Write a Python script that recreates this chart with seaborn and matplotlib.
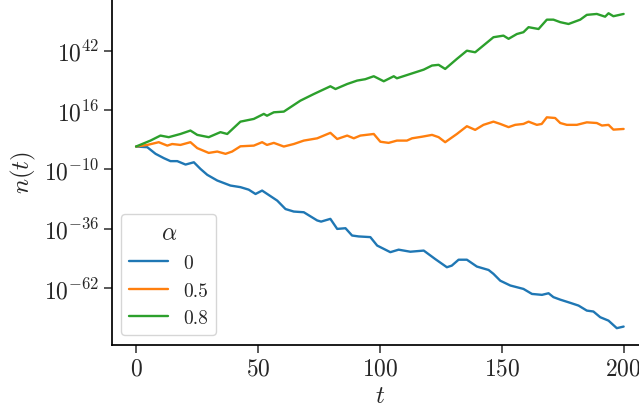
import numpy as np
import pandas as pd
import matplotlib
matplotlib.use("Agg")
import matplotlib.pyplot as plt
from matplotlib.ticker import FixedLocator, NullLocator
import seaborn as sns

# values: time t and log10 n(t)
t_a0 = [0, 4.6, 8, 11.4, 14.1, 16.9, 20.3, 23.7, 26.4, 29.2, 33.3, 38.7, 42.8,
        46.2, 49, 51.7, 57.9, 61.3, 64.7, 68.8, 74.3, 75.9, 79.7, 82.5, 85.9,
        88.6, 91.3, 96.1, 98.9, 104.3, 107.7, 112.5, 118, 122.7, 127.5, 129.5,
        132.3, 135.7, 139.8, 144.6, 146.6, 149.4, 153.5, 158.9, 162.4, 166.5,
        169.2, 171.2, 174, 178.1, 181.5, 184.9, 187.6, 190.4, 193.8, 197.2, 200]
log_a0 = [0, -0.3, -3.2, -5.1, -6.4, -6.4, -7.9, -6.9, -9.8, -12.4, -14.9, -17.1,
          -17.8, -18.9, -20.8, -19.3, -23.7, -27.4, -28.5, -28.8, -32.4, -32.9,
          -31.7, -36.1, -35.8, -39.0, -39.4, -39.7, -43.4, -46.3, -45.2, -46.1,
          -45.6, -49.3, -52.9, -52.2, -49.6, -49.6, -52.6, -54.1, -55.8, -58.8,
          -60.9, -62.4, -64.6, -65.0, -64.3, -66.0, -67.1, -68.5, -69.7, -71.9,
          -72.3, -74.8, -76.3, -79.6, -78.9]

t_a05 = [0, 4.6, 9.3, 12.8, 14.8, 18.2, 22.3, 25.1, 29.8, 33.3, 36.7, 39.4, 42.8,
         48.3, 51.7, 53.7, 56.5, 60.6, 64.7, 68.8, 74.3, 79.7, 82.5, 86.6, 89.3,
         92, 97.5, 100.2, 103.6, 107, 111.1, 113.2, 117.3, 121.4, 124.1, 126.8,
         131.6, 135.7, 139.1, 142.5, 146.6, 149.4, 152.8, 155.5, 158.9, 161,
         164.4, 166.4, 168.5, 171.9, 174, 176.7, 180.8, 184.9, 189, 191.1, 193.8,
         195.8, 200]
log_a05 = [0, 0.7, 1.9, 0.4, 1.1, 0.7, 1.9, -0.7, -2.8, -2.2, -3.2, -2.2, 0.1,
           0.4, 1.9, 0.7, 1.6, 0.0, 1.1, 2.6, 3.6, 6.0, 3.3, 4.8, 3.6, 4.8, 5.5,
           2.1, 1.6, 2.6, 2.6, 3.6, 4.3, 5.1, 4.1, 1.9, 5.5, 8.9, 7.3, 9.5, 10.9,
           9.9, 8.5, 9.5, 9.9, 10.9, 9.5, 9.9, 12.8, 12.5, 10.3, 9.5, 9.5, 10.6,
           10.3, 9.2, 9.5, 7.4, 7.7]

t_a08 = [0, 5.9, 10, 13.4, 18.2, 22.3, 25.1, 29.8, 34.6, 37.4, 42.8, 48.3, 52.4,
         53.7, 56.5, 60.6, 67.4, 72.9, 79.7, 81.8, 86.6, 90.7, 94, 97.5, 101.6,
         105.7, 107, 112.5, 118, 121.4, 124.1, 126.8, 131.6, 135.7, 139.1, 146.6,
         150.7, 152.8, 156.2, 158.9, 161, 165.1, 168.5, 171.2, 174, 177.4, 182.2,
         184.9, 189, 192.4, 193.8, 195.8, 200]
log_a08 = [0, 2.6, 4.8, 4.1, 5.5, 7.0, 5.1, 4.1, 6.3, 5.5, 10.9, 12.1, 14.3, 13.5,
           15.0, 15.3, 20.1, 23.0, 26.4, 25.2, 27.4, 28.9, 29.5, 30.8, 28.6, 30.8,
           29.9, 31.8, 33.7, 35.5, 35.8, 34.0, 38.4, 42.0, 41.3, 47.9, 48.6, 47.2,
           49.3, 50.1, 52.3, 51.5, 55.6, 55.6, 54.5, 53.7, 55.6, 57.7, 58.1, 56.9,
           58.4, 57.1, 58.1]

alpha_labels = ["0", "0.5", "0.8"]
y_ticks = [1e-62, 1e-36, 1e-10, 1e16, 1e42]

frames = []
for lab, tt, ee in zip(alpha_labels, [t_a0, t_a05, t_a08], [log_a0, log_a05, log_a08]):
    frames.append(pd.DataFrame({"t": tt, "n": 10.0 ** np.array(ee), "alpha": lab}))
df = pd.concat(frames, ignore_index=True)

sns.set_theme(style="ticks")
plt.rcParams["font.family"] = "serif"
plt.rcParams["font.serif"] = ["cmr10", "DejaVu Serif"]
plt.rcParams["mathtext.fontset"] = "cm"
plt.rcParams["axes.formatter.use_mathtext"] = True

fig = plt.figure(figsize=(6.39, 4.10), dpi=100)
ax = fig.add_axes([0.1748, 0.1568, 0.8393, 0.8432])

sns.lineplot(data=df, x="t", y="n", hue="alpha", hue_order=alpha_labels,
             palette=["#1f77b4", "#ff7f0e", "#2ca02c"], linewidth=1.7, ax=ax)

ax.set_yscale("log")
ax.set_xlim(-10, 210)
ax.set_ylim(10 ** -86.85, 10 ** 64.65)
ax.yaxis.set_major_locator(FixedLocator(y_ticks))
ax.yaxis.set_minor_locator(NullLocator())
ax.set_xticks([0, 50, 100, 150, 200])
ax.tick_params(labelsize=17, length=5.5, color="#444444")
for s in ["left", "bottom"]:
    ax.spines[s].set_color("black")
sns.despine(ax=ax)

ax.set_xlabel("$t$", fontsize=18)
ax.set_ylabel("$n(t)$", fontsize=18)

leg = ax.legend(title=r"$\alpha$", loc="lower left", fontsize=14, title_fontsize=17,
                frameon=True)
leg.get_frame().set_edgecolor("#cccccc")

fig.savefig("out.png", dpi=100)
